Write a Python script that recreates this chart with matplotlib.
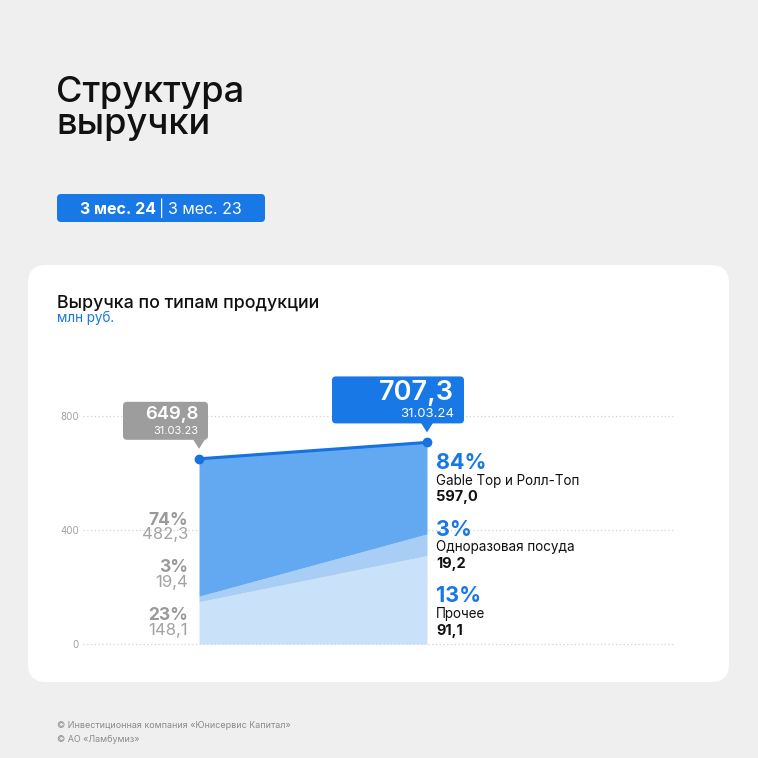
import matplotlib.pyplot as plt
from matplotlib.patches import FancyBboxPatch, Polygon

plt.rcParams['font.family'] = ['Inter', 'DejaVu Sans']

# data
periods = [0, 1]
dates = ["31.03.23", "31.03.24"]
total = [649.8, 707.3]
total_txt = ["649,8", "707,3"]
# layer heights as drawn in the picture (bottom -> top)
area_other = [148.1, 310.0]
area_disp = [19.4, 76.0]
categories = ["Gable Top и Ролл-Топ", "Одноразовая посуда", "Прочее"]
pct_23 = ["74%", "3%", "23%"]
val_23 = ["482,3", "19,4", "148,1"]
pct_24 = ["84%", "3%", "13%"]
val_24 = ["597,0", "19,2", "91,1"]
yticks = [0, 400, 800]

BG = "#efefef"
BLUE = "#1778e6"
C_TOP = "#63a9f2"
C_MID = "#a9cef6"
C_BOT = "#cae1fa"
C_LINE = "#1672e0"
GRAY = "#9d9d9d"

fig = plt.figure(figsize=(7.58, 7.58), dpi=100, facecolor=BG)

# background layer: card, titles, footer (pixel coords, y down)
bg = fig.add_axes([0, 0, 1, 1], zorder=0)
bg.set_xlim(0, 758)
bg.set_ylim(758, 0)
bg.axis("off")
bg.add_patch(FancyBboxPatch((28, 265), 701, 417, boxstyle="round,pad=0,rounding_size=18",
                            fc="white", ec="none"))
bg.text(56, 102, "Структура", fontsize=26, color="#111111", fontweight="medium", va="baseline")
bg.text(56, 134, "выручки", fontsize=26, color="#111111", fontweight="medium", va="baseline")

bg.add_patch(FancyBboxPatch((57, 194), 208, 28, boxstyle="round,pad=0,rounding_size=4",
                            fc=BLUE, ec="none"))
bg.text(80, 214, "3 мес. 24", fontsize=11.5, fontweight="bold", color="white", va="baseline")
bg.text(159, 214, "|", fontsize=11.5, color="white", va="baseline")
bg.text(168, 214, "3 мес. 23", fontsize=11.5, color="white", va="baseline")

bg.text(57, 307.5, "Выручка по типам продукции", fontsize=12.8, color="#111111",
        fontweight="medium", va="baseline")
bg.text(57, 322, "млн руб.", fontsize=9.7, color=BLUE, va="baseline")

bg.text(57, 728, "© Инвестиционная компания «Юнисервис Капитал»", fontsize=6.45,
        color="#8a8a8a", va="baseline")
bg.text(57, 742, "© АО «Ламбумиз»", fontsize=6.45, color="#8a8a8a", va="baseline")

# chart axes
ax = fig.add_axes([83 / 758, 114 / 758, 592 / 758, 228 / 758], zorder=1)
ax.set_facecolor("none")
ax.set_xlim(-0.5088, 2.0877)
ax.set_ylim(0, 800)
for s in ax.spines.values():
    s.set_visible(False)
ax.set_xticks([])
ax.set_yticks(yticks)
ax.set_yticklabels([str(t) for t in yticks])
ax.tick_params(axis="y", length=0, pad=3, labelsize=7, labelcolor="#a0a0a0")
for t in yticks:
    ax.axhline(t, color="#d4d4d4", lw=0.9, ls=(0, (1, 2)), zorder=0, clip_on=False)

mid_top = [a + b for a, b in zip(area_other, area_disp)]
ax.fill_between(periods, 0, area_other, color=C_BOT, lw=0, zorder=1)
ax.fill_between(periods, area_other, mid_top, color=C_MID, lw=0, zorder=1)
ax.fill_between(periods, mid_top, total, color=C_TOP, lw=0, zorder=1)
ax.plot(periods, total, color=C_LINE, lw=2.2, marker="o", ms=6, zorder=3, clip_on=False)

# overlay for callouts and labels (pixel coords, y down)
ov = fig.add_axes([0, 0, 1, 1], zorder=2)
ov.set_xlim(0, 758)
ov.set_ylim(758, 0)
ov.axis("off")
ov.patch.set_alpha(0)


def to_px(x, y):
    d = ax.transData.transform((x, y))
    return ov.transData.inverted().transform(d)


# callout boxes: offsets from the point, colour, font sizes
callouts = [
    dict(l=-76, r=9, top=-57, bot=-19, tip=-10, c=GRAY, tx=-1, nb=-39.5, db=-25, fs=13.3, dfs=8),
    dict(l=-95, r=37, top=-66, bot=-19, tip=-10, c=BLUE, tx=27, nb=-42, db=-25, fs=19.5, dfs=9.5),
]
for i, cfg in enumerate(callouts):
    px, py = to_px(periods[i], total[i])
    ov.add_patch(FancyBboxPatch((px + cfg["l"], py + cfg["top"]), cfg["r"] - cfg["l"],
                                cfg["bot"] - cfg["top"], boxstyle="round,pad=0,rounding_size=4",
                                fc=cfg["c"], ec="none"))
    ov.add_patch(Polygon([(px - 6, py + cfg["bot"] - 0.5), (px + 6, py + cfg["bot"] - 0.5),
                          (px, py + cfg["tip"])], closed=True, fc=cfg["c"], ec="none"))
    ov.text(px + cfg["tx"], py + cfg["nb"], total_txt[i], fontsize=cfg["fs"], color="white",
            fontweight="semibold", ha="right", va="baseline")
    ov.text(px + cfg["tx"], py + cfg["db"], dates[i], fontsize=cfg["dfs"], color="white",
            ha="right", va="baseline")

# left labels (2023)
lx = 188
left_base = [525, 572, 620]
for p, v, b in zip(pct_23, val_23, left_base):
    ov.text(lx, b, p, fontsize=12.5, fontweight="bold", color="#9a9a9a", ha="right", va="baseline")
    ov.text(lx, b + 14.5, v, fontsize=12, color="#a3a3a3", ha="right", va="baseline")

# right labels (2024)
rx = 436
right_base = [469, 535.5, 602]
for p, name, v, b in zip(pct_24, categories, val_24, right_base):
    ov.text(rx, b, p, fontsize=15.5, fontweight="bold", color=BLUE, va="baseline")
    ov.text(rx, b + 16, name, fontsize=9.7, color="#111111", va="baseline")
    ov.text(rx, b + 32.5, v, fontsize=10.5, fontweight="bold", color="#111111", va="baseline")

fig.savefig("out.png", dpi=100, facecolor=BG)
